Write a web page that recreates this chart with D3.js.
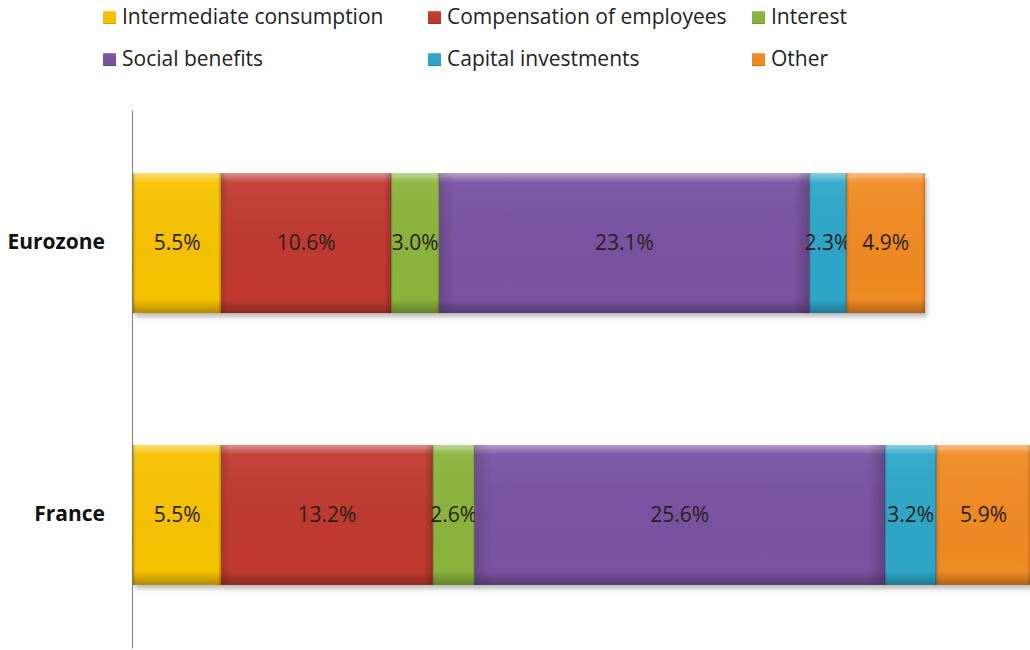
<!DOCTYPE html>
<html>
<head>
<meta charset="utf-8">
<script src="https://cdn.jsdelivr.net/npm/d3@7"></script>
<style>
  body { margin: 0; background: #fff; }
  text { font-family: "Open Sans", "Noto Sans", sans-serif; }
</style>
</head>
<body>
<svg width="1030" height="650"></svg>
<script>
// data (% of GDP)
const regions = ['Eurozone', 'France'];
const seriesNames = ['Intermediate consumption', 'Compensation of employees', 'Interest',
                     'Social benefits', 'Capital investments', 'Other'];
const eurozoneValues = [5.5, 10.6, 3.0, 23.1, 2.3, 4.9];
const franceValues = [5.5, 13.2, 2.6, 25.6, 3.2, 5.9];
const seriesColors = ['#f7c200', '#c0392f', '#8ab33b', '#7952a0', '#2ea6c8', '#f08a22'];

const rows = regions.map((r, i) => {
  const vals = i === 0 ? eurozoneValues : franceValues;
  const o = {region: r};
  seriesNames.forEach((s, j) => o[s] = vals[j]);
  return o;
});

const svg = d3.select('svg');
const left = 133;

// x scale: ~16 px per percentage point, France runs off the right edge like the original
const x = d3.scaleLinear().domain([0, 60]).range([left, left + 962]);
const y = d3.scaleBand().domain(regions).range([110, 648])
  .paddingInner(0.485).paddingOuter(0.232);

const stack = d3.stack().keys(seriesNames)(rows);

// gradients for the bevelled look
const defs = svg.append('defs');
const sheen = defs.append('linearGradient').attr('id', 'sheen')
  .attr('x1', 0).attr('y1', 0).attr('x2', 0).attr('y2', 1);
sheen.append('stop').attr('offset', '0%').attr('stop-color', '#fff').attr('stop-opacity', 0.45);
sheen.append('stop').attr('offset', '7%').attr('stop-color', '#fff').attr('stop-opacity', 0.05);
sheen.append('stop').attr('offset', '90%').attr('stop-color', '#000').attr('stop-opacity', 0.0);
sheen.append('stop').attr('offset', '100%').attr('stop-color', '#000').attr('stop-opacity', 0.28);
const side = defs.append('linearGradient').attr('id', 'side')
  .attr('x1', 0).attr('y1', 0).attr('x2', 1).attr('y2', 0);
side.append('stop').attr('offset', '0%').attr('stop-color', '#000').attr('stop-opacity', 0.12);
side.append('stop').attr('offset', '4%').attr('stop-color', '#000').attr('stop-opacity', 0);
side.append('stop').attr('offset', '96%').attr('stop-color', '#000').attr('stop-opacity', 0);
side.append('stop').attr('offset', '100%').attr('stop-color', '#000').attr('stop-opacity', 0.2);
const blur = defs.append('filter').attr('id', 'shadow').attr('x', '-5%').attr('y', '-5%')
  .attr('width', '110%').attr('height', '120%');
blur.append('feGaussianBlur').attr('stdDeviation', 2);

// axis (category line, no ticks)
svg.append('g')
  .attr('transform', 'translate(' + (left - 1) + ',0)')
  .call(d3.axisLeft(y).tickSize(0).tickPadding(27))
  .call(g => g.select('.domain').attr('stroke', '#8c8c8c').attr('stroke-width', 1.2))
  .call(g => g.selectAll('text')
    .attr('font-size', 21).attr('font-weight', 'bold').attr('fill', '#111')
    .attr('font-family', '"Open Sans", sans-serif')
    .attr('dy', '0.3em'));

// shadows under whole bars
svg.append('g').selectAll('rect')
  .data(rows).enter().append('rect')
  .attr('x', x(0) + 2)
  .attr('y', d => y(d.region) + 4)
  .attr('width', d => x(d3.sum(seriesNames, s => d[s])) - x(0))
  .attr('height', y.bandwidth())
  .attr('fill', '#000').attr('opacity', 0.25)
  .attr('filter', 'url(#shadow)');

const layers = svg.append('g').selectAll('g')
  .data(stack).enter().append('g');

const segs = layers.selectAll('g')
  .data(d => d.map(p => ({p: p, key: d.key, i: d.index}))).enter().append('g');

segs.append('rect')
  .attr('x', d => x(d.p[0]))
  .attr('y', d => y(d.p.data.region))
  .attr('width', d => x(d.p[1]) - x(d.p[0]))
  .attr('height', y.bandwidth())
  .attr('fill', d => seriesColors[d.i]);
segs.append('rect')
  .attr('x', d => x(d.p[0]))
  .attr('y', d => y(d.p.data.region))
  .attr('width', d => x(d.p[1]) - x(d.p[0]))
  .attr('height', y.bandwidth())
  .attr('fill', 'url(#sheen)');
segs.append('rect')
  .attr('x', d => x(d.p[0]))
  .attr('y', d => y(d.p.data.region))
  .attr('width', d => x(d.p[1]) - x(d.p[0]))
  .attr('height', y.bandwidth())
  .attr('fill', 'url(#side)');
segs.append('line')
  .attr('x1', d => x(d.p[0])).attr('x2', d => x(d.p[0]))
  .attr('y1', d => y(d.p.data.region))
  .attr('y2', d => y(d.p.data.region) + y.bandwidth())
  .attr('stroke', '#000').attr('stroke-opacity', 0.2);

// value labels
segs.append('text')
  .attr('x', d => (x(d.p[0]) + x(d.p[1])) / 2)
  .attr('y', d => y(d.p.data.region) + y.bandwidth() / 2)
  .attr('dy', '0.35em')
  .attr('text-anchor', 'middle')
  .attr('font-size', 21)
  .attr('fill', '#2a201c')
  .text(d => (d.p[1] - d.p[0]).toFixed(1) + '%');

// legend, 3 columns x 2 rows
const legCols = [103, 428, 752];
const legRows = [17, 59];
const leg = svg.append('g').selectAll('g')
  .data(seriesNames).enter().append('g')
  .attr('transform', (d, i) => 'translate(' + legCols[i % 3] + ',' + legRows[Math.floor(i / 3)] + ')');
leg.append('rect')
  .attr('x', 0).attr('y', -6).attr('width', 13).attr('height', 13)
  .attr('fill', (d, i) => seriesColors[i]);
leg.append('rect')
  .attr('x', 0).attr('y', -6).attr('width', 13).attr('height', 13)
  .attr('fill', 'url(#sheen)');
leg.append('text')
  .attr('x', 19).attr('dy', '0.35em')
  .attr('font-size', 21).attr('fill', '#222')
  .text(d => d);
</script>
</body>
</html>
